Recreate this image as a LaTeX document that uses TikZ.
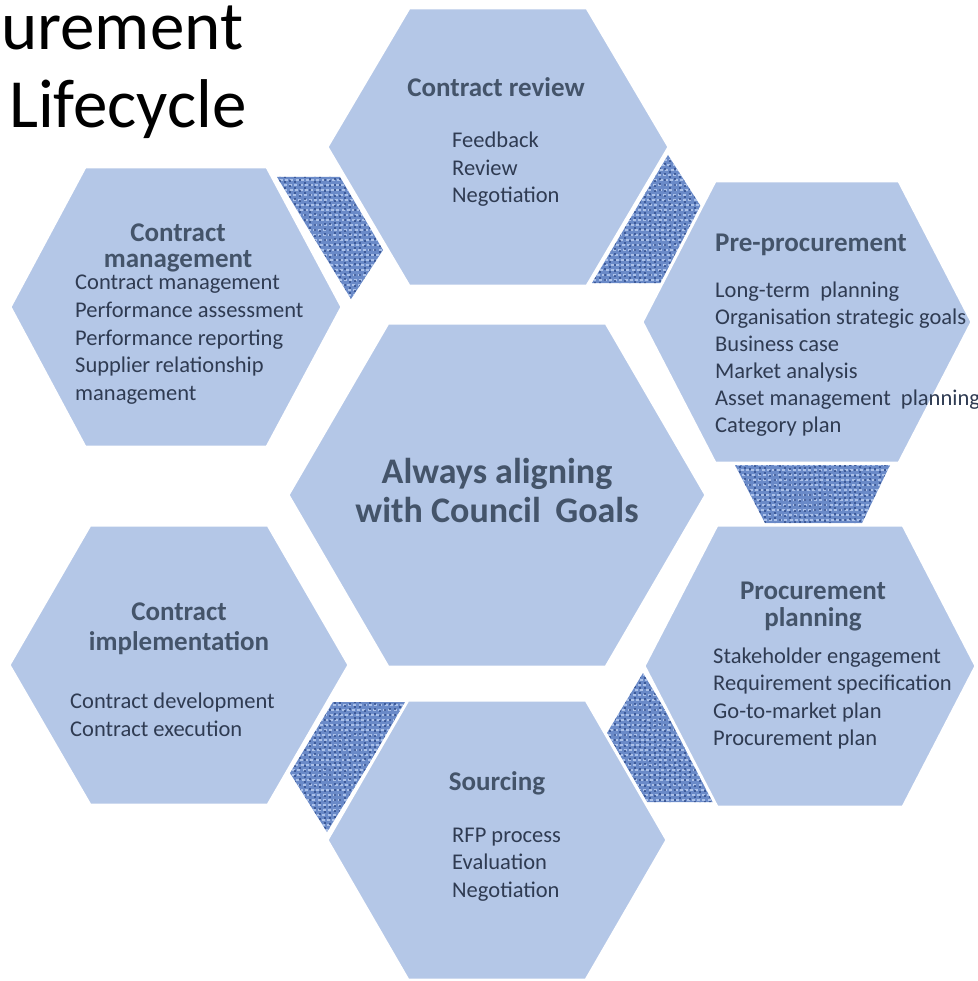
\documentclass[tikz,border=0pt]{standalone}
\usepackage{fontspec}
\setmainfont{Carlito}
\definecolor{cellblue}{HTML}{B4C7E7}
\definecolor{denim}{HTML}{6A8AC8}
\definecolor{denimlight}{HTML}{B6CAEE}
\definecolor{denimdark}{HTML}{2E4A88}
\definecolor{headgray}{HTML}{44546A}
\definecolor{bodygray}{HTML}{2F3B52}

\begin{document}
\begin{tikzpicture}[x=1pt,y=-1pt,
        cell/.style={fill=cellblue, draw=white, line width=3pt},
        head/.style={inner sep=0pt, anchor=base, text=headgray, font=\fontsize{27}{30}\selectfont\bfseries},
        item/.style={inner sep=0pt, anchor=base west, text=bodygray, font=\fontsize{22.5}{27}\selectfont},
        weft/.style={denimlight, line width=2.2pt, dash pattern=on 3pt off 2.2pt, opacity=0.85},
        warp/.style={denimdark, line width=1.5pt, dash pattern=on 2pt off 3.4pt, opacity=0.75}]
        \useasboundingbox[fill=white] (0,0) rectangle (977,981);

        % woven pieces between the outer cells
        \begin{scope}
            \clip (277,177) -- (340,177) -- (383,250) -- (351,299) -- cycle
                  (668,155) -- (705,213) -- (665,283) -- (592,283) -- cycle
                  (735,465) -- (890,465) -- (862,523) -- (765,523) -- cycle
                  (643,673) -- (720,802) -- (647,802) -- (607,733) -- cycle
                  (333,702) -- (407,702) -- (327,832) -- (290,773) -- cycle
                  (130,458) -- (220,458) -- (255,522) -- (108,522) -- cycle;
            \pgfmathsetseed{11}
            \fill[denim] (260,150) rectangle (910,840);
            \foreach \y in {150,155,...,840} {
                    \pgfmathsetmacro\ph{5*rnd}
                    \draw[weft, dash phase=\ph pt] (260,\y) -- (910,\y);
                }
            \foreach \x in {260,265,...,910} {
                    \pgfmathsetmacro\ph{5*rnd}
                    \draw[warp, dash phase=\ph pt] (\x,150) -- (\x,840);
                }
        \end{scope}

        % cells: centre x/y, half width, half height, half top edge
        \foreach \cx/\cy/\hw/\hh/\ex in {498/147/171/139/89, 176/307/166/140/91, 807/322/165/141/92,
                810/666/166/141/93, 179/665/170/140/89, 497/840/170/140/89, 497/495/209/172/109} {
                \filldraw[cell] (\cx-\hw,\cy) -- (\cx-\ex,\cy-\hh) -- (\cx+\ex,\cy-\hh) -- (\cx+\hw,\cy)
                    -- (\cx+\ex,\cy+\hh) -- (\cx-\ex,\cy+\hh) -- cycle;
            }

        \node[inner sep=0pt, anchor=base west, font=\fontsize{69}{78}\selectfont] (title1) at (1,50) {urement};
        \node[inner sep=0pt, anchor=base west, font=\fontsize{69}{78}\selectfont] (title2) at (9,128) {Lifecycle};

        \node[head, font=\fontsize{36}{40}\selectfont\bfseries] (goal1) at (497,483) {Always aligning};
        \node[head, font=\fontsize{36}{40}\selectfont\bfseries] (goal2) at (497,522) {with Council\hspace{0.4em}Goals};

        % contract review
        \node[head] (rev) at (496,97) {Contract review};
        \foreach \t [count=\i] in {Feedback, Review, Negotiation}
        \node[item] (rev\i) at (452,148+27.5*\i-27.5) {\t};

        % contract management
        \node[head] (man) at (178,242) {Contract};
        \node[head] (manb) at (178,268) {management};
        \foreach \t [count=\i] in {Contract management, Performance assessment, Performance reporting,
                Supplier relationship, management}
        \node[item] (man\i) at (75,290+27.5*\i-27.5) {\t};

        % pre-procurement
        \node[head, anchor=base west] (pre) at (715,252) {Pre-procurement};
        \foreach \t [count=\i] in {Long-term\ \ planning, Organisation strategic goals, Business case,
                Market analysis, Asset management\ \ planning, Category plan}
        \node[item] (pre\i) at (715,297+27*\i-27) {\t};

        % procurement planning
        \node[head] (plan) at (813,599) {Procurement};
        \node[head] (planb) at (813,626) {planning};
        \foreach \t [count=\i] in {Stakeholder engagement, Requirement specification, Go-to-market plan,
                Procurement plan}
        \node[item] (plan\i) at (713,663+27.5*\i-27.5) {\t};

        % contract implementation
        \node[head] (imp) at (179,620) {Contract};
        \node[head] (impb) at (179,650) {implementation};
        \foreach \t [count=\i] in {Contract development, Contract execution}
        \node[item] (imp\i) at (70,708+28*\i-28) {\t};

        % sourcing
        \node[head] (src) at (497,790) {Sourcing};
        \foreach \t [count=\i] in {RFP process, Evaluation, Negotiation}
        \node[item] (src\i) at (452,842+27.5*\i-27.5) {\t};
    \end{tikzpicture}
\end{document}
